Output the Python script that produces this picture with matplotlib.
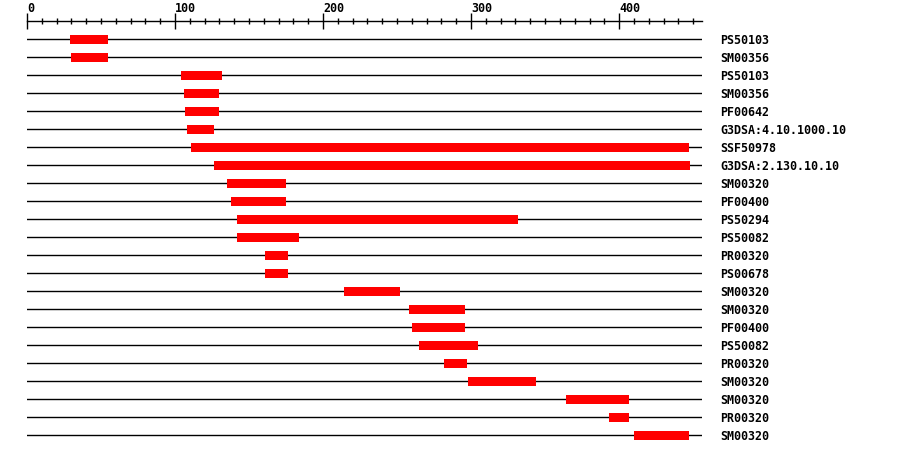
import matplotlib
matplotlib.use("Agg")
import matplotlib.pyplot as plt
from matplotlib.ticker import MultipleLocator
import numpy as np

# domain hits along the sequence (start, end in residues)
names = ["PS50103", "SM00356", "PS50103", "SM00356", "PF00642",
         "G3DSA:4.10.1000.10", "SSF50978", "G3DSA:2.130.10.10",
         "SM00320", "PF00400", "PS50294", "PS50082", "PR00320", "PS00678",
         "SM00320", "SM00320", "PF00400", "PS50082", "PR00320", "SM00320",
         "SM00320", "PR00320", "SM00320"]
starts = [29, 30, 104, 106, 107, 108, 111, 126, 135, 138, 142, 142, 161, 161,
          214, 258, 260, 265, 282, 298, 364, 393, 410]
ends = [55, 55, 132, 130, 130, 126, 447, 448, 175, 175, 332, 184, 176, 176,
        252, 296, 296, 305, 297, 344, 407, 407, 447]
seq_len = 456

W, H = 900, 454
fig = plt.figure(figsize=(W / 100, H / 100), dpi=100)
ax = fig.add_axes([27 / W, 1 / H, (702 - 27) / W, 432 / H])

rows = np.arange(len(names))
starts = np.array(starts)
ends = np.array(ends)

for r in rows:
    ax.axhline(r, color="black", lw=1.0, zorder=1)
ax.barh(rows, ends - starts, left=starts, height=0.5, color="#ff0000", zorder=2)

ax.set_xlim(0, seq_len)
ax.set_ylim(len(names), -1)

for s in ["bottom", "left", "right"]:
    ax.spines[s].set_visible(False)
ax.spines["top"].set_linewidth(1.0)

font = dict(family="DejaVu Sans Mono", weight="bold", size=8.4)

ax.xaxis.tick_top()
ax.xaxis.set_major_locator(MultipleLocator(100))
ax.xaxis.set_minor_locator(MultipleLocator(10))
ax.tick_params(axis="x", which="major", direction="inout", length=11.5,
               width=1.0, pad=-1.6)
ax.tick_params(axis="x", which="minor", direction="inout", length=4.3,
               width=1.0)
for lab in ax.get_xticklabels():
    lab.set_horizontalalignment("left")
    lab.set_fontproperties(matplotlib.font_manager.FontProperties(**font))

ax.yaxis.tick_right()
ax.set_yticks(rows)
ax.set_yticklabels(names, **font)
ax.tick_params(axis="y", length=0, pad=13)
for lab in ax.get_yticklabels():
    lab.set_horizontalalignment("left")

fig.savefig("out.png", dpi=100)
